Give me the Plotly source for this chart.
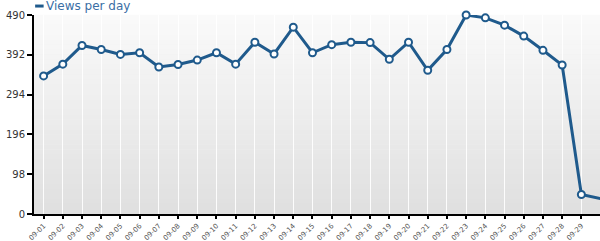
import plotly.graph_objects as go

dates = ["09-%02d" % d for d in range(1, 31)]
views = [340, 369, 415, 405, 393, 397, 362, 368, 379, 397, 369, 423, 394, 460,
         397, 417, 423, 422, 381, 423, 354, 405, 490, 483, 465, 438, 403, 367, 48, 38]
y_ticks = [0, 98, 196, 294, 392, 490]
series_name = "Views per day"

blue = "#1f5a8c"

fig = go.Figure()
fig.add_trace(go.Scatter(
    x=list(range(len(dates))), y=views, mode="lines+markers", name=series_name,
    line=dict(color=blue, width=3),
    marker=dict(symbol="circle", size=7, color="white", line=dict(color=blue, width=2)),
    cliponaxis=False, showlegend=False,
))

# gradient background for plot area
shapes = []
n = 40
for i in range(n):
    t = i / (n - 1)
    c = int(250 - t * (250 - 224))
    shapes.append(dict(type="rect", xref="paper", yref="paper",
                       x0=0, x1=1, y0=1 - (i + 1) / n, y1=1 - i / n + 0.001,
                       fillcolor="rgb(%d,%d,%d)" % (c, c, c), line=dict(width=0), layer="below"))
# legend swatch
shapes.append(dict(type="line", xref="paper", yref="paper", x0=0.002, x1=0.017,
                   y0=1.045, y1=1.045, line=dict(color=blue, width=3)))

fig.update_layout(
    width=600, height=241,
    margin=dict(l=34, r=0, t=15, b=27, autoexpand=False),
    paper_bgcolor="white", plot_bgcolor="rgb(240,240,240)",
    font=dict(family="DejaVu Sans", size=10, color="#333"),
    shapes=shapes,
    annotations=[dict(text=series_name, xref="paper", yref="paper", x=0.018, y=1.0,
                      xanchor="left", yanchor="bottom", showarrow=False,
                      font=dict(size=12, color="#3a6ea5", family="DejaVu Sans"))],
    xaxis=dict(range=[-0.5, 28.97], tickmode="array", tickvals=list(range(len(dates))),
               ticktext=dates, tickangle=-45, tickfont=dict(size=7, color="#555"),
               automargin=False,
               showgrid=True, gridcolor="rgba(255,255,255,0.9)", gridwidth=1,
               showline=True, linecolor="black", linewidth=2,
               ticks="outside", ticklen=3, tickcolor="black", tickwidth=2, zeroline=False),
    yaxis=dict(range=[0, 490], tickmode="array", tickvals=y_ticks, automargin=False,
               tickfont=dict(size=10, color="#333"),
               showgrid=False, showline=True, linecolor="black", linewidth=2,
               ticks="outside", ticklen=5, tickcolor="black", tickwidth=2, zeroline=False),
)

fig.write_html("out.html")
